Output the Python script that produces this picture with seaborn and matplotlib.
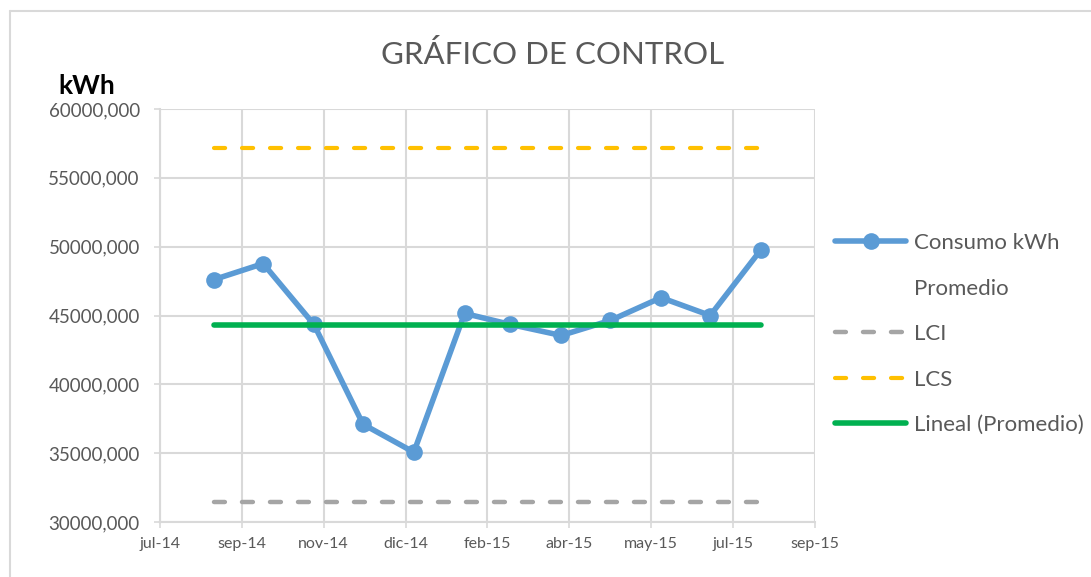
"""
Grafico de control del consumo mensual de energia (kWh).
"""
import matplotlib
matplotlib.use("Agg")
import numpy as np
import pandas as pd
import matplotlib.pyplot as plt
from matplotlib.lines import Line2D
import seaborn as sns

# ─── Datos ───────────────────────────────────────────────────────────────
fechas = ["2014-08-31", "2014-09-30", "2014-10-31", "2014-11-30",
          "2014-12-31", "2015-01-31", "2015-02-28", "2015-03-31",
          "2015-04-30", "2015-05-31", "2015-06-30", "2015-07-31"]
consumo_kwh = [47610, 48770, 44350, 37100, 35070, 45150,
               44350, 43550, 44640, 46300, 45000, 49780]
lcs = 57170
lci = 31440

etiquetas_x = ["jul-14", "sep-14", "nov-14", "dic-14", "feb-15",
               "abr-15", "may-15", "jul-15", "sep-15"]
inicio_eje = "2014-07-29"
paso_dias = 50
ticks_y = [30000, 35000, 40000, 45000, 50000, 55000, 60000]

# ─── Estilo ──────────────────────────────────────────────────────────────
AZUL = "#5B9BD5"
VERDE = "#00B050"
NARANJA = "#FFC000"
GRIS = "#A5A5A5"
TEXTO = "#595959"
REJILLA = "#D9D9D9"

sns.set_theme(style="white")
plt.rcParams["font.family"] = ["Lato", "DejaVu Sans"]

df = pd.DataFrame({"fecha": pd.to_datetime(fechas), "consumo": consumo_kwh})
promedio = float(np.mean(consumo_kwh))
df["promedio"] = promedio
df["lci"] = lci
df["lcs"] = lcs

fig = plt.figure(figsize=(10.91, 5.77), dpi=100)
ax = fig.add_axes([160 / 1091, 1 - 522 / 577, 655 / 1091, 413 / 577])

sns.lineplot(data=df, x="fecha", y="consumo", ax=ax, color=AZUL,
             linewidth=4, marker="o", markersize=12, markeredgewidth=0,
             label="Consumo kWh")
sns.lineplot(data=df, x="fecha", y="promedio", ax=ax, color="white",
             linestyle="none", label="Promedio")
sns.lineplot(data=df, x="fecha", y="lci", ax=ax, color=GRIS,
             linewidth=3.2, label="LCI")
sns.lineplot(data=df, x="fecha", y="lcs", ax=ax, color=NARANJA,
             linewidth=3, label="LCS")
sns.lineplot(data=df, x="fecha", y="promedio", ax=ax, color=VERDE,
             linewidth=4, label="Lineal (Promedio)")

# limites de control punteados (guiones de ~15 px, periodo ~28 px)
ax.lines[2].set_dashes([2.45, 3.85])
ax.lines[3].set_dashes([2.67, 4.05])
for ln in ax.lines:
    ln.set_solid_capstyle("round")
    ln.set_dash_capstyle("round")

# ─── Ejes ────────────────────────────────────────────────────────────────
x_ticks = pd.date_range(inicio_eje, periods=len(etiquetas_x), freq=f"{paso_dias}D")
ax.set_xlim(x_ticks[0], x_ticks[-1])
ax.set_xticks(x_ticks)
ax.set_xticklabels(etiquetas_x)
ax.set_ylim(ticks_y[0], ticks_y[-1])
ax.set_yticks(ticks_y)
ax.set_yticklabels([f"{v:.3f}".replace(".", ",") for v in ticks_y])
ax.set_xlabel("")
ax.set_ylabel("")

ax.grid(True, color=REJILLA, linewidth=1.5)
for side in ["top", "right"]:
    ax.spines[side].set_visible(False)
for side in ["left", "bottom"]:
    ax.spines[side].set_color(REJILLA)
    ax.spines[side].set_linewidth(1.5)
ax.tick_params(axis="y", which="major", left=True, length=4.5, width=1.2,
               color=REJILLA, labelcolor=TEXTO, labelsize=13.5, pad=10)
ax.tick_params(axis="x", which="major", bottom=True, length=4.5, width=1.2,
               color=REJILLA, labelcolor=TEXTO, labelsize=11.5, pad=6)

# ─── Leyenda ─────────────────────────────────────────────────────────────
ax.legend_.remove()
handles, labels = ax.get_legend_handles_labels()
fig.legend(handles, labels, loc="upper left",
           bbox_to_anchor=(835 / 1091, 1 - 233 / 577), frameon=False,
           fontsize=16, handlelength=3.2, handletextpad=0.35,
           labelspacing=1.15, labelcolor=TEXTO, borderaxespad=0,
           borderpad=0)

# ─── Titulos ─────────────────────────────────────────────────────────────
fig.text(553 / 1091, 1 - 55 / 577, "GRÁFICO DE CONTROL", ha="center",
         va="center", fontsize=22.5, color=TEXTO)
fig.text(87 / 1091, 1 - 86 / 577, "kWh", ha="center", va="center",
         fontsize=19, fontweight="bold", color="black")

# borde del area del grafico
fig.add_artist(Line2D([9.5 / 1091, 1], [1 - 10.5 / 577] * 2,
                      color=REJILLA, linewidth=1.5))
fig.add_artist(Line2D([9.5 / 1091] * 2, [0, 1 - 10.5 / 577],
                      color=REJILLA, linewidth=1.5))

fig.savefig("out.png", dpi=100)
